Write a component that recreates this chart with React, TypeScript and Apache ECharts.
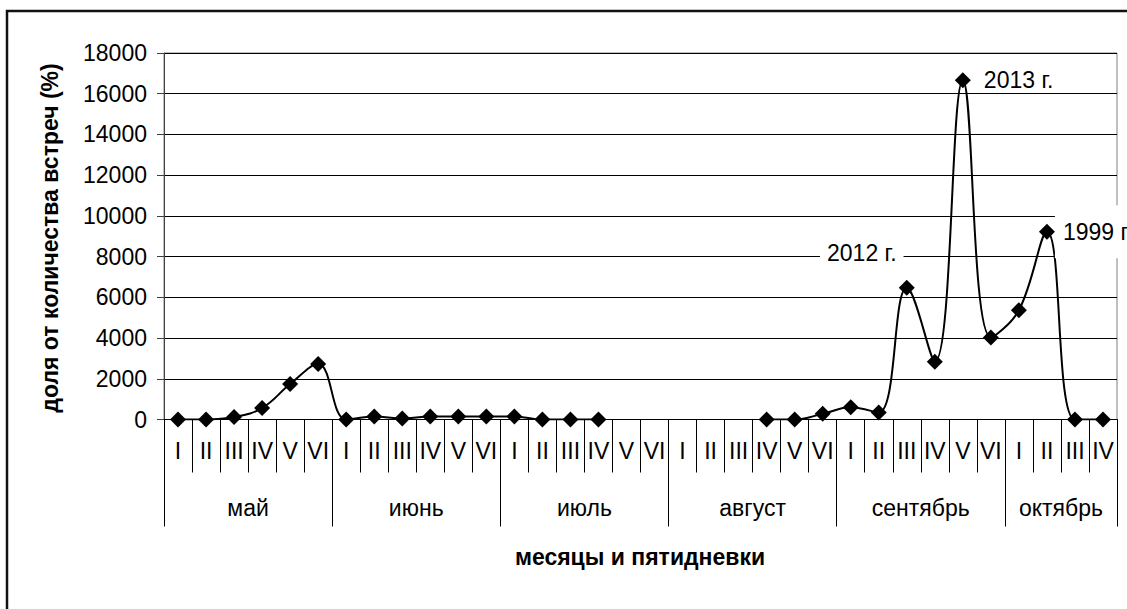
import React, { useEffect, useRef } from "react";
import * as echarts from "echarts";

// ---- data ----
const months = ["май", "июнь", "июль", "август", "сентябрь", "октябрь"];
const pentadsPerMonth = [6, 6, 6, 6, 6, 4];
const romanNumerals = ["I", "II", "III", "IV", "V", "VI"];

const mayValues = [0, 0, 120, 560, 1740, 2720];
const juneValues = [0, 150, 50, 150, 150, 150];
const julyValues = [150, 0, 0, 0, null, null];
const augustValues = [null, null, null, 0, 0, 280];
const septemberValues = [600, 340, 6470, 2840, 16660, 4030];
const octoberValues = [5370, 9220, 0, 0];

const yMin = 0;
const yMax = 18000;
const yInterval = 2000;

// annotated points: month index, pentad index, text
const peakLabels = [
  { month: 4, pentad: 2, text: "2012 г." },
  { month: 4, pentad: 4, text: "2013 г." },
  { month: 5, pentad: 1, text: "1999 г." },
];

const yAxisTitle = "доля от количества встреч (%)";
const xAxisTitle = "месяцы и пятидневки";

const FONT = "Arial, 'Liberation Sans', sans-serif";

export default function App() {
  const ref = useRef<HTMLDivElement>(null);

  useEffect(() => {
    if (!ref.current) return;
    const chart = echarts.init(ref.current, undefined, { renderer: "svg" });

    const monthValues = [mayValues, juneValues, julyValues, augustValues, septemberValues, octoberValues];
    const categories: string[] = [];
    const values: (number | null)[] = [];
    const monthStart: number[] = [];
    let acc = 0;
    pentadsPerMonth.forEach((n, m) => {
      monthStart.push(acc);
      for (let i = 0; i < n; i++) {
        categories.push(romanNumerals[i]);
        values.push(monthValues[m][i]);
      }
      acc += n;
    });
    const total = acc;
    const boundaries = [...monthStart, total];
    const centers = monthStart.map((s, m) => s + pentadsPerMonth[m] / 2);

    const labelStyles: Record<string, any> = {
      "2012 г.": {
        position: "inside",
        offset: [-45, -35],
        backgroundColor: "#fff",
        padding: [3, 7],
      },
      "2013 г.": {
        position: "right",
        distance: 13,
      },
      "1999 г.": {
        position: "right",
        distance: 0,
        backgroundColor: "#fff",
        padding: [15, 6, 15, 8],
      },
    };

    const seriesData = values.map((v, i) => {
      const lab = peakLabels.find((p) => monthStart[p.month] + p.pentad === i);
      if (!lab) return v;
      return {
        value: v,
        label: {
          show: true,
          formatter: lab.text,
          color: "#000",
          fontSize: 23,
          fontFamily: FONT,
          ...labelStyles[lab.text],
        },
      };
    });

    chart.setOption({
      animation: false,
      backgroundColor: "#fff",
      grid: {
        left: 164,
        right: 10,
        top: 53,
        bottom: 189.5,
        show: true,
        borderColor: "#808080",
        borderWidth: 1,
        backgroundColor: "transparent",
      },
      xAxis: [
        {
          type: "category",
          data: categories,
          position: "bottom",
          boundaryGap: true,
          axisLine: { show: true, lineStyle: { color: "#000", width: 1 } },
          axisTick: { show: true, interval: 0, length: 53, lineStyle: { color: "#000" } },
          axisLabel: {
            interval: 0,
            margin: 20,
            color: "#000",
            fontSize: 23,
            fontFamily: FONT,
          },
          splitLine: { show: false },
        },
        {
          type: "value",
          min: 0,
          max: total,
          position: "bottom",
          offset: 0,
          axisLine: { show: false },
          axisTick: {
            show: true,
            length: 107,
            customValues: boundaries,
            lineStyle: { color: "#000" },
          },
          axisLabel: {
            show: true,
            margin: 77,
            customValues: centers,
            color: "#000",
            fontSize: 23,
            fontFamily: FONT,
            formatter: (val: number) => {
              const idx = centers.findIndex((c) => Math.abs(c - val) < 1e-6);
              return idx >= 0 ? months[idx] : "";
            },
          },
          splitLine: { show: false },
        },
      ],
      yAxis: {
        type: "value",
        min: yMin,
        max: yMax,
        interval: yInterval,
        axisLine: { show: true, lineStyle: { color: "#404040", width: 1 } },
        axisTick: { show: true, length: 7, inside: false, lineStyle: { color: "#404040" } },
        axisLabel: {
          margin: 17,
          color: "#000",
          fontSize: 23,
          fontFamily: FONT,
          formatter: (v: number) => String(v),
        },
        splitLine: { show: true, lineStyle: { color: "#000", width: 1 } },
      },
      series: [
        {
          type: "line",
          xAxisIndex: 0,
          data: seriesData,
          smooth: 0.4,
          connectNulls: false,
          symbol: "diamond",
          symbolSize: 16,
          showAllSymbol: true,
          lineStyle: { color: "#000", width: 2 },
          itemStyle: { color: "#000" },
          label: { show: false },
          z: 5,
        },
      ],
      graphic: [
        {
          type: "rect",
          shape: { x: 7, y: 11, width: 1300, height: 800 },
          style: { fill: "none", stroke: "#111", lineWidth: 2.5 },
          silent: true,
          z: 100,
        },
        {
          type: "text",
          x: 50,
          y: 238,
          rotation: Math.PI / 2,
          style: {
            text: yAxisTitle,
            fill: "#000",
            font: `bold 23px ${FONT}`,
            textAlign: "center",
            textVerticalAlign: "middle",
          },
        },
        {
          type: "text",
          x: 640,
          y: 557,
          style: {
            text: xAxisTitle,
            fill: "#000",
            font: `bold 23px ${FONT}`,
            textAlign: "center",
            textVerticalAlign: "middle",
          },
        },
      ],
    });

    return () => chart.dispose();
  }, []);

  return (
    <div
      ref={ref}
      style={{ position: "fixed", left: 0, top: 0, width: 1127, height: 609 }}
    />
  );
}
